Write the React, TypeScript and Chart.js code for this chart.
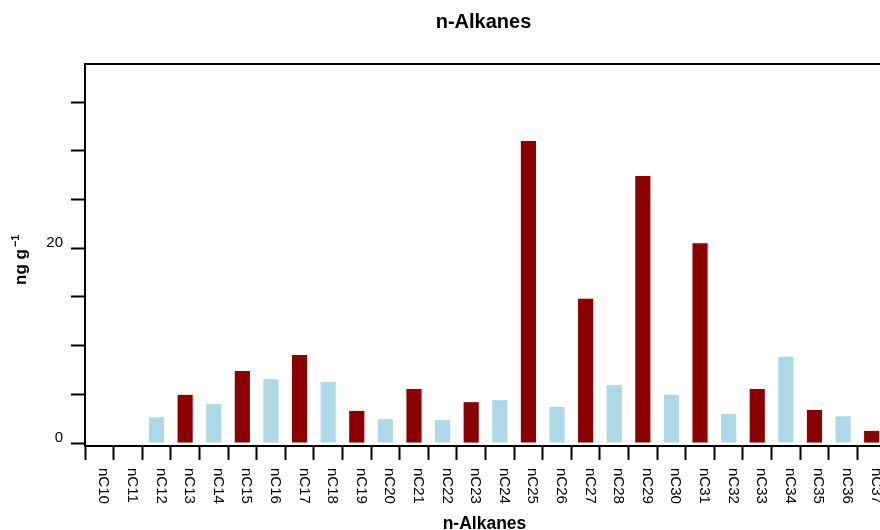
import { useEffect, useRef } from 'react';
import { Chart, registerables } from 'chart.js';

Chart.register(...registerables);

const categories = [
  'nC10', 'nC11', 'nC12', 'nC13', 'nC14', 'nC15', 'nC16', 'nC17', 'nC18', 'nC19',
  'nC20', 'nC21', 'nC22', 'nC23', 'nC24', 'nC25', 'nC26', 'nC27', 'nC28', 'nC29',
  'nC30', 'nC31', 'nC32', 'nC33', 'nC34', 'nC35', 'nC36', 'nC37',
];

const concentrations: (number | null)[] = [
  null, null, 2.65, 4.95, 4.0, 7.4, 6.55, 9.05, 6.25, 3.3,
  2.45, 5.55, 2.35, 4.2, 4.4, 31.0, 3.7, 14.8, 5.95, 27.4,
  4.95, 20.5, 3.0, 5.55, 8.85, 3.4, 2.75, 1.25,
];

const yTickValues = [0, 5, 10, 15, 20, 25, 30, 35];
const yLabeledTicks = [0, 20];

const chartTitle = 'n-Alkanes';
const xTitle = 'n-Alkanes';
const yTitleMain = 'ng g';
const yTitleSup = '\u22121';

const ODD_COLOR = '#8B0000';
const EVEN_COLOR = '#ADD8E6';
const FONT = '"Liberation Sans", Arial, Helvetica, sans-serif';

const decorations = {
  id: 'decorations',
  afterDraw(chart: any) {
    const { ctx, chartArea } = chart;
    const { left, top, right, bottom } = chartArea;
    const xs = chart.scales.x;
    ctx.save();
    // frame top/right
    ctx.strokeStyle = '#000';
    ctx.lineWidth = 2;
    ctx.beginPath();
    ctx.moveTo(left - 1, top);
    ctx.lineTo(right, top);
    ctx.lineTo(right, bottom);
    ctx.stroke();

    // x category labels, rotated clockwise
    ctx.fillStyle = '#000';
    ctx.font = `15px ${FONT}`;
    ctx.textAlign = 'left';
    ctx.textBaseline = 'alphabetic';
    categories.forEach((c, i) => {
      const px = xs.getPixelForValue(i);
      ctx.save();
      ctx.translate(px, bottom + 22);
      ctx.rotate(Math.PI / 2);
      ctx.fillText(c, 0, 0);
      ctx.restore();
    });

    // chart title
    ctx.textAlign = 'center';
    ctx.font = `bold 20px ${FONT}`;
    ctx.fillText(chartTitle, (left + right) / 2 - 2, 28);

    // x title
    ctx.font = `bold 17.5px ${FONT}`;
    ctx.fillText(xTitle, (left + right) / 2 - 1, 529);

    // y title
    ctx.save();
    ctx.translate(26, 285);
    ctx.rotate(-Math.PI / 2);
    ctx.textAlign = 'left';
    ctx.font = `bold 17px ${FONT}`;
    ctx.fillText(yTitleMain, 0, 0);
    const w = ctx.measureText(yTitleMain).width;
    ctx.font = `bold 11px ${FONT}`;
    ctx.fillText(yTitleSup, w + 2, -7);
    ctx.restore();

    ctx.restore();
  },
};

export default function App() {
  const canvasRef = useRef<HTMLCanvasElement | null>(null);

  useEffect(() => {
    const canvas = canvasRef.current;
    if (!canvas) return;
    const chart = new Chart(canvas, {
      type: 'bar',
      data: {
        labels: categories,
        datasets: [
          {
            label: 'n-Alkanes',
            data: concentrations,
            backgroundColor: (c: any) => {
              const n = parseInt(categories[c.dataIndex].slice(2), 10);
              return n % 2 === 1 ? ODD_COLOR : EVEN_COLOR;
            },
            borderWidth: 0,
            barPercentage: 0.53,
            categoryPercentage: 1,
          },
        ],
      },
      options: {
        animation: false,
        responsive: false,
        maintainAspectRatio: false,
        devicePixelRatio: 1,
        layout: { padding: { left: 0, top: 64, right: 14, bottom: 0 } },
        plugins: {
          legend: { display: false },
          title: { display: false },
          tooltip: { enabled: false },
        },
        scales: {
          x: {
            type: 'category',
            offset: true,
            grid: {
              offset: true,
              drawOnChartArea: false,
              drawTicks: true,
              tickLength: 14,
              tickWidth: 2,
              tickColor: '#000',
            },
            border: { display: true, width: 2, color: '#000' },
            ticks: { display: false },
            afterFit: (s: any) => {
              s.height = 84;
            },
          },
          y: {
            type: 'linear',
            min: -0.3,
            max: 38.9,
            afterBuildTicks: (s: any) => {
              s.ticks = yTickValues.map((v) => ({ value: v }));
            },
            grid: {
              drawOnChartArea: false,
              drawTicks: true,
              tickLength: 14,
              tickWidth: 2,
              tickColor: '#000',
            },
            border: { display: true, width: 2, color: '#000' },
            ticks: {
              padding: 8,
              labelOffset: -5.5,
              color: '#000',
              font: { size: 15, family: FONT },
              callback: (v: any) => (yLabeledTicks.includes(Number(v)) ? String(v) : ''),
            },
            afterFit: (s: any) => {
              s.width = 85;
            },
          },
        },
      },
      plugins: [decorations],
    });
    return () => chart.destroy();
  }, []);

  return (
    <div
      style={{
        position: 'fixed',
        left: 0,
        top: 0,
        width: 880,
        height: 530,
        overflow: 'hidden',
        background: '#fff',
      }}
    >
      <canvas
        ref={canvasRef}
        width={900}
        height={530}
        style={{ width: 900, height: 530, display: 'block' }}
      />
    </div>
  );
}
